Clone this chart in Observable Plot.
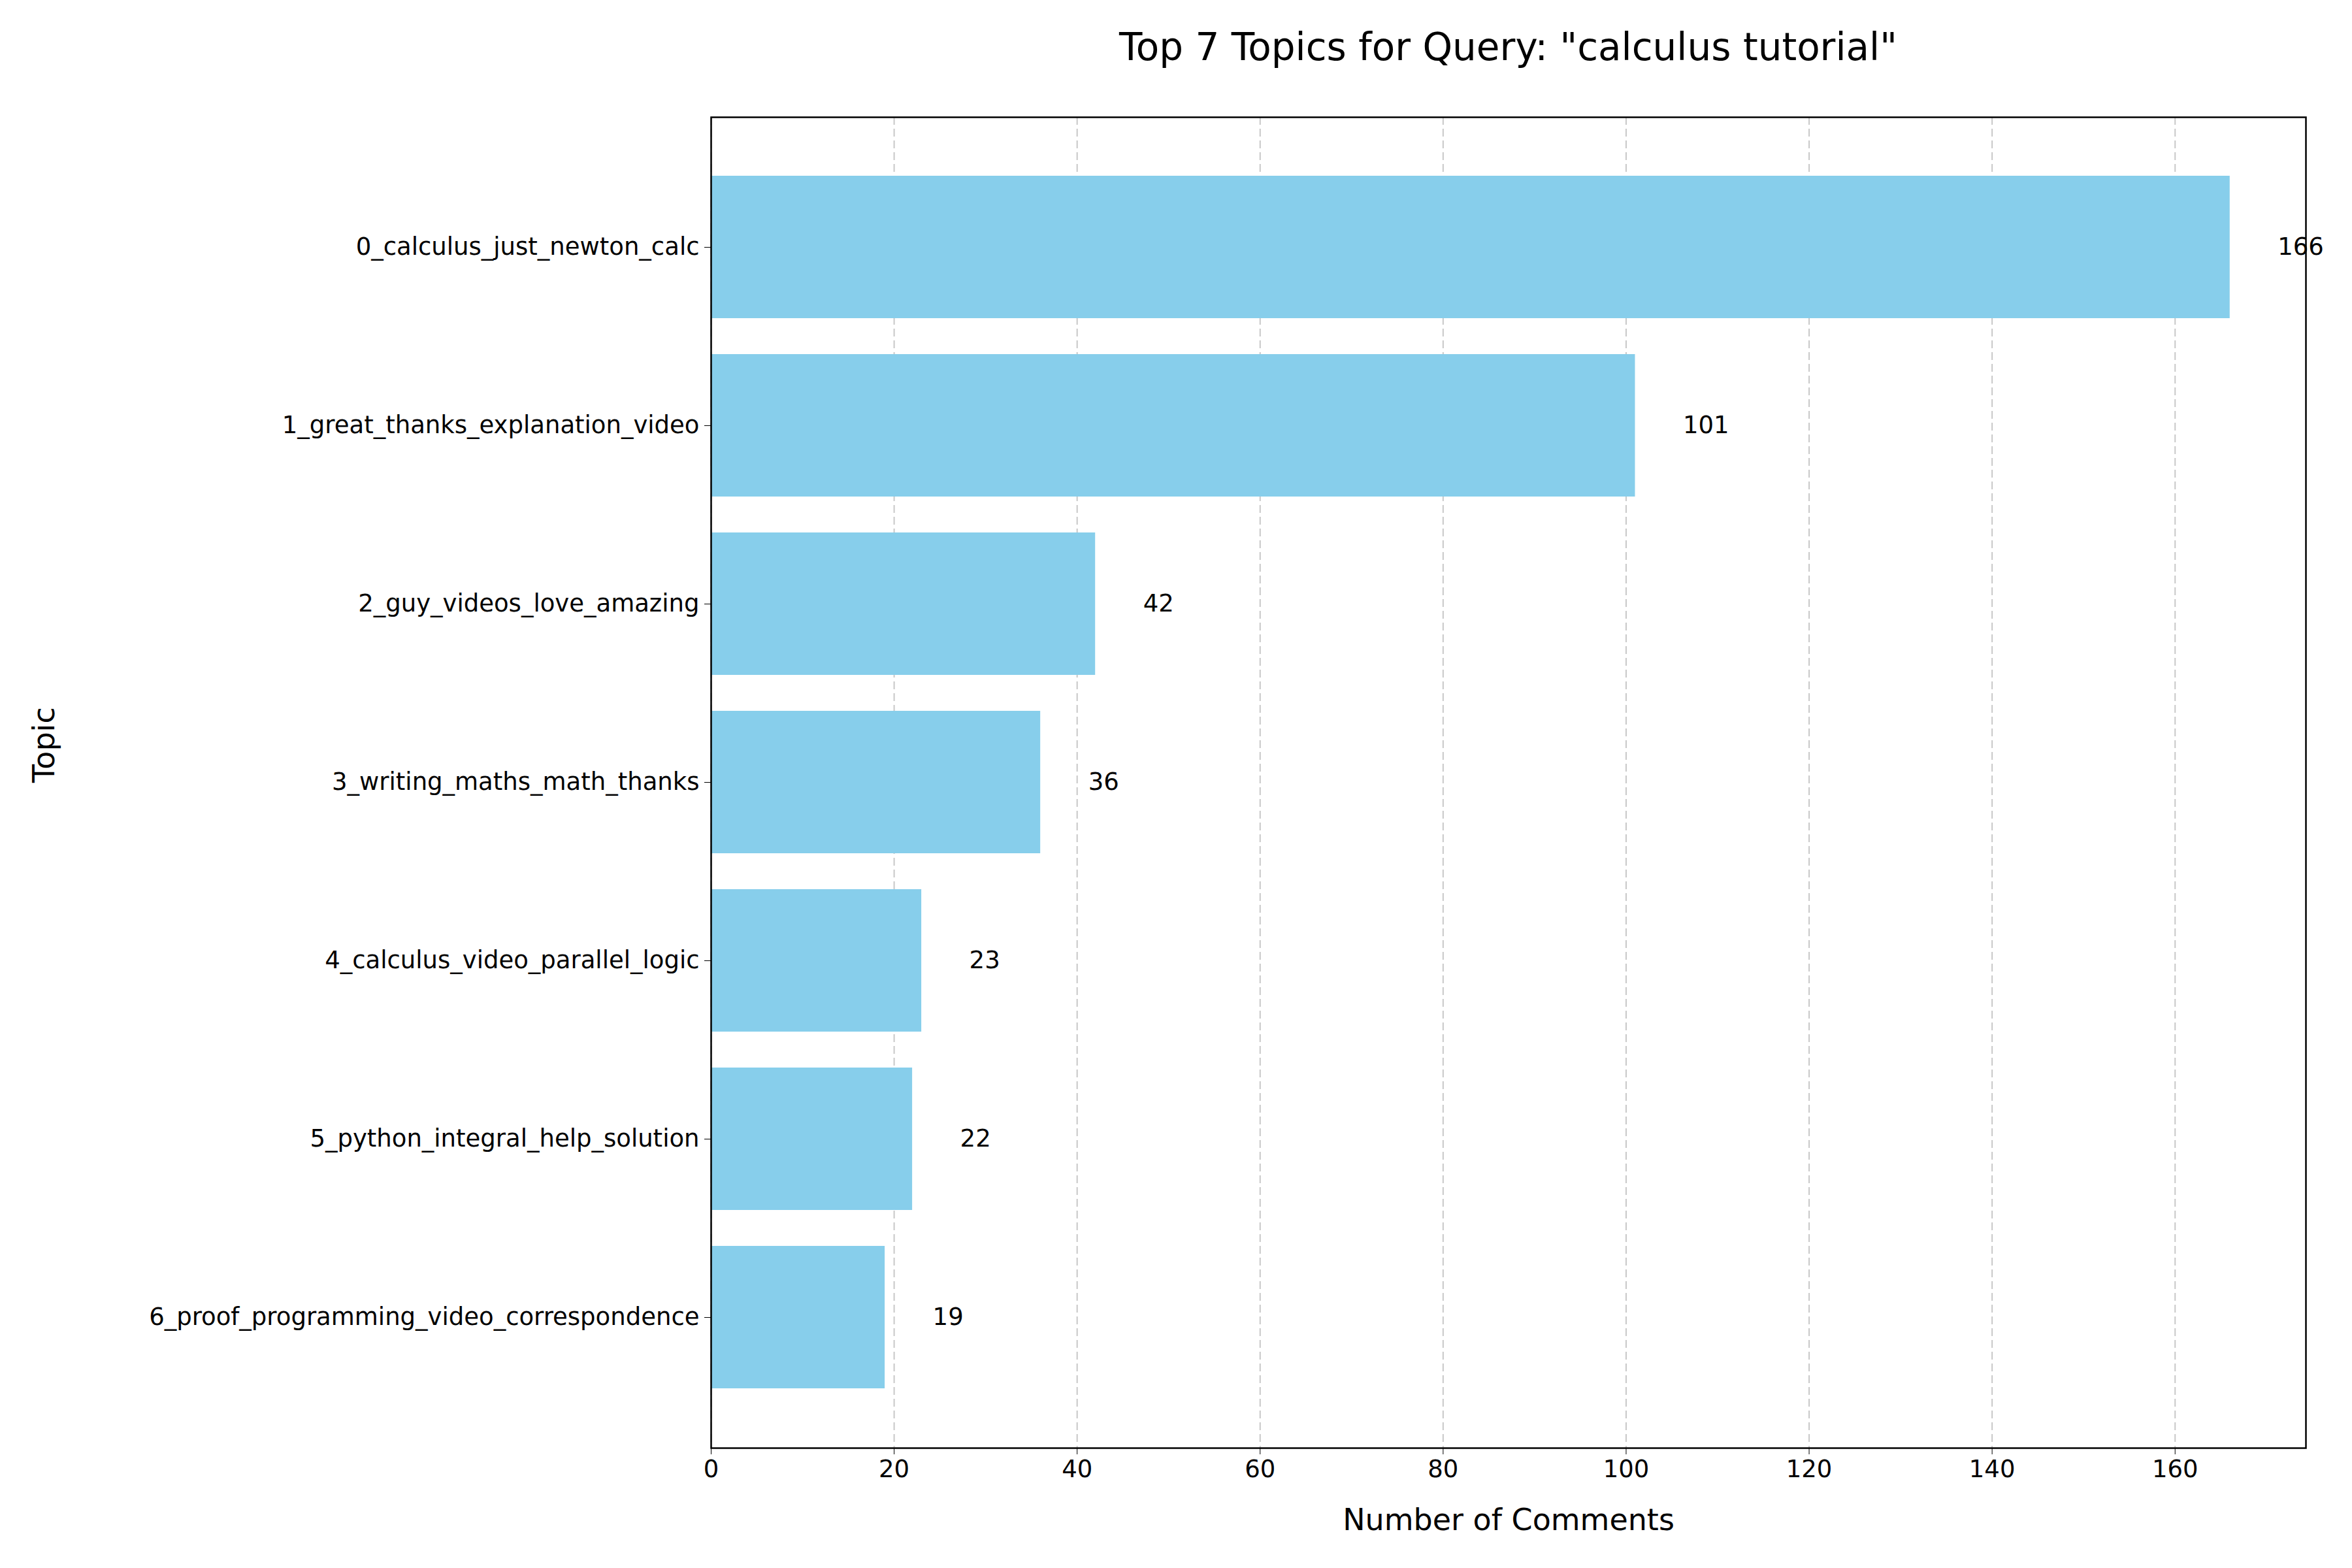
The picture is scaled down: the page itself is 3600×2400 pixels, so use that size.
<!DOCTYPE html>
<html>
<head>
<meta charset="utf-8">
<script src="https://cdn.jsdelivr.net/npm/d3@7"></script>
<script src="https://cdn.jsdelivr.net/npm/@observablehq/plot@0.6"></script>
<style>
  body { margin: 0; background: #fff; font-family: "DejaVu Sans", sans-serif; }
  #wrap { position: relative; width: 3600px; height: 2400px; }
  #title { position: absolute; top: 38px; left: 1088px; width: 2441px; text-align: center; font-size: 58px; color: #000; }
</style>
</head>
<body>
<div id="wrap">
  <div id="title">Top 7 Topics for Query: "calculus tutorial"</div>
  <div id="chart"></div>
</div>
<script>
  // topics, top to bottom
  const topics = [
    "0_calculus_just_newton_calc",
    "1_great_thanks_explanation_video",
    "2_guy_videos_love_amazing",
    "3_writing_maths_math_thanks",
    "4_calculus_video_parallel_logic",
    "5_python_integral_help_solution",
    "6_proof_programming_video_correspondence"
  ]
  const counts = [166, 101, 42, 36, 23, 22, 19]
  const xTicks = [0, 20, 40, 60, 80, 100, 120, 140, 160]

  const data = topics.map((t, i) => ({topic: t, count: counts[i]}))

  const chart = Plot.plot({
    width: 3600,
    height: 2400,
    marginLeft: 1088,
    marginRight: 71,
    marginTop: 179,
    marginBottom: 184,
    style: {fontFamily: "DejaVu Sans, sans-serif", fontSize: "35px", color: "#000", background: "#fff"},
    x: {domain: [0, 174.3], ticks: xTicks, label: null, tickSize: 10},
    y: {domain: topics, padding: 0.2, paddingOuter: 0.327, label: null, tickSize: 10},
    marks: [
      Plot.gridX(xTicks, {stroke: "#b0b0b0", strokeOpacity: 0.7, strokeDasharray: "12,6", strokeWidth: 2}),
      Plot.barX(data, {x: "count", y: "topic", fill: "#87ceeb"}),
      Plot.text(data, {x: "count", y: "topic", text: d => String(d.count), textAnchor: "start", dx: 73, fontSize: 37, fill: "#000"}),
      Plot.axisX({ticks: xTicks, tickSize: 10, fontSize: 37, tickPadding: 8, label: null}),
      Plot.axisY({tickSize: 10, fontSize: 37, tickPadding: 8, label: null}),
      Plot.frame({stroke: "#000", strokeWidth: 2.5}),
      Plot.text(["Number of Comments"], {frameAnchor: "bottom", dy: 125, fontSize: 46, fill: "#000"}),
      Plot.text(["Topic"], {frameAnchor: "left", dx: -1020, rotate: -90, fontSize: 46, fill: "#000"})
    ]
  })
  d3.select('#chart').append(() => chart)
</script>
</body>
</html>
